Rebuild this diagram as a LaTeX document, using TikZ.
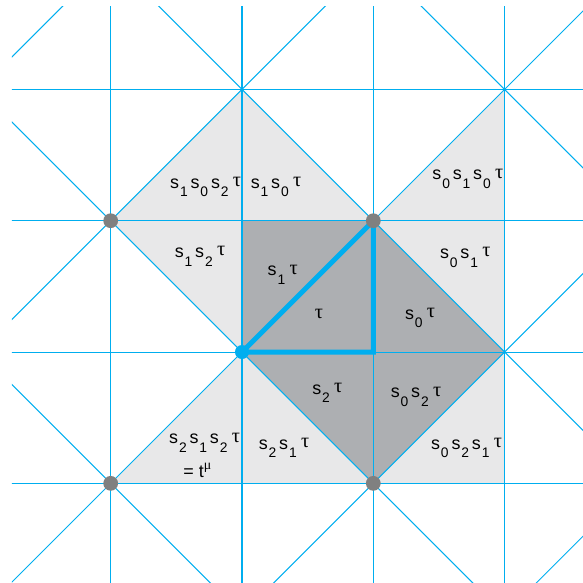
\documentclass[tikz,border=0pt]{standalone}
\usepackage{fontspec}
\setmainfont{Liberation Sans}
\newfontfamily\grk{Liberation Serif}
\usepackage{tikz}
\definecolor{alcblue}{RGB}{0,174,239}
\definecolor{alclight}{RGB}{232,232,233}
\definecolor{alcdark}{RGB}{173,175,178}
\definecolor{alcdot}{RGB}{128,128,128}
\newcommand\sw[1]{s\kern.05em\raisebox{-.9ex}{\fontsize{7.5}{8}\selectfont#1}\hspace{.16em}}
\newcommand\tu{\hspace{.08em}\raisebox{.2ex}{\fontsize{11}{12}\selectfont\grk τ}}

\begin{document}
\begin{tikzpicture}[x=2.5cm, y=2.5cm,
      wall/.style={alcblue, line width=0.55pt},
      alcove/.style={font=\fontsize{9.7}{11}\selectfont, inner sep=0pt},
      fund/.style={alcblue, line width=2.7pt, line join=miter},
      vert/.style={circle, fill=alcdot, inner sep=0pt, minimum size=8pt}
  ]
    \useasboundingbox (-1.843,-1.759) rectangle (2.597,2.681);
    \coordinate (o) at (0,0);
    \coordinate (a) at (1,1);
    \coordinate (b) at (1,0);
    % shaded alcoves
    \fill[alclight] (-1,-1) -- (2,-1) -- (2,2) -- (1,1) -- (0,2) -- (-1,1) -- (0,0) -- cycle;
    \fill[alcdark] (0,0) -- (0,1) -- (1,1) -- (2,0) -- (1,-1) -- cycle;
    % hyperplanes
    \begin{scope}
      \clip (-1.752,-1.759) rectangle (2.597,2.628);
      \foreach \i in {-1,0,1,2} {
        \draw[wall] (\i,-2) -- (\i,3);
        \draw[wall] (-2,\i) -- (3,\i);
      }
      \foreach \n in {-4,-2,0,2,4} {
        \draw[wall] (-3,-3+\n) -- (3,3+\n);
        \draw[wall] (-3,3+\n) -- (3,-3+\n);
      }
    \end{scope}
    \draw[fund] (o) -- (a) -- (b) -- cycle;
    \node[vert] (v1) at (-1,1) {};
    \node[vert] (v2) at (1,1) {};
    \node[vert] (v3) at (-1,-1) {};
    \node[vert] (v4) at (1,-1) {};
    \node[vert, fill=alcblue, minimum size=7.6pt] (v0) at (o) {};
    % labels
    \node[alcove] (w1) at (-0.277,1.257) {\sw1\sw0\sw2\tu};
    \node[alcove] (w2) at (0.259,1.257) {\sw1\sw0\tu};
    \node[alcove] (w3) at (-0.32,0.73) {\sw1\sw2\tu};
    \node[alcove] (w4) at (0.31,0.59) {\sw1\tu};
    \node[alcove] (w5) at (0.58,0.28) {\tu};
    \node[alcove] (w6) at (1.356,0.26) {\sw0\tu};
    \node[alcove] (w7) at (1.72,1.32) {\sw0\sw1\sw0\tu};
    \node[alcove] (w8) at (1.70,0.72) {\sw0\sw1\tu};
    \node[alcove] (w9) at (0.65,-0.31) {\sw2\tu};
    \node[alcove] (w10) at (1.325,-0.34) {\sw0\sw2\tu};
    \node[alcove] (w11) at (0.32,-0.73) {\sw2\sw1\tu};
    \node[alcove] (w12) at (1.71,-0.73) {\sw0\sw2\sw1\tu};
    \node[alcove] (w13) at (-0.285,-0.69) {\sw2\sw1\sw2\tu};
    \node[alcove] (w14) at (-0.34,-0.90) {= t\raisebox{.9ex}{\fontsize{7.5}{8}\selectfont\grk μ}};
\end{tikzpicture}
\end{document}
